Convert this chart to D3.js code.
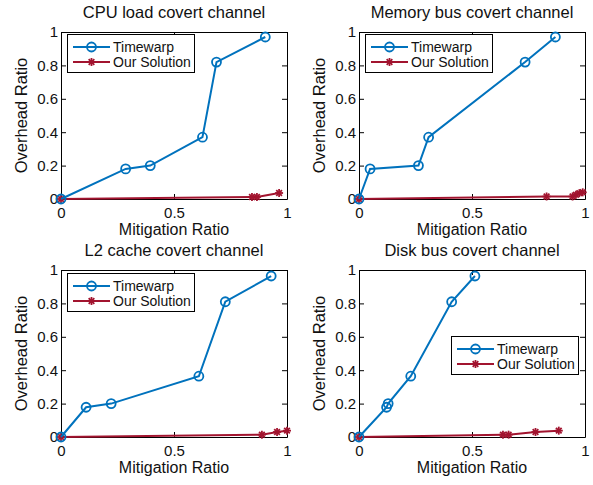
<!DOCTYPE html>
<html lang="en">
<head>
    <meta charset="UTF-8">
    <title>Covert channel overhead vs mitigation</title>
    <script src="https://d3js.org/d3.v7.min.js"></script>
    <style>
        body { margin: 0; background: #fff; }
        text { font-family: "Liberation Sans", Arial, sans-serif; fill: #111; }
    </style>
</head>
<body>
    <svg width="593" height="485"></svg>
    <script>
        // Panel titles
        const titles = ["CPU load covert channel", "Memory bus covert channel",
                        "L2 cache covert channel", "Disk bus covert channel"];
        const seriesNames = ["Timewarp", "Our Solution"];
        const xTicks = [0, 0.5, 1];
        const yTicks = [0, 0.2, 0.4, 0.6, 0.8, 1];

        // Timewarp data [mitigation, overhead]
        const cpuTimewarp = [[0, 0], [0.286, 0.18], [0.395, 0.2], [0.626, 0.37], [0.688, 0.82], [0.904, 0.97]];
        const memTimewarp = [[0, 0], [0.049, 0.18], [0.263, 0.2], [0.308, 0.37], [0.735, 0.82], [0.869, 0.97]];
        const l2Timewarp = [[0, 0], [0.111, 0.178], [0.222, 0.2], [0.61, 0.364], [0.727, 0.81], [0.93, 0.964]];
        const diskTimewarp = [[0, 0], [0.122, 0.178], [0.129, 0.2], [0.229, 0.364], [0.41, 0.81], [0.513, 0.964]];

        // Our Solution data
        const cpuOurs = [[0, 0], [0.845, 0.012], [0.867, 0.012], [0.965, 0.036]];
        const memOurs = [[0, 0], [0.83, 0.015], [0.945, 0.015], [0.96, 0.025], [0.975, 0.035], [0.99, 0.04]];
        const l2Ours = [[0, 0], [0.889, 0.014], [0.956, 0.03], [1.0, 0.038]];
        const diskOurs = [[0, 0], [0.637, 0.014], [0.662, 0.014], [0.781, 0.03], [0.884, 0.038]];

        const blue = "#0072BD";
        const red = "#A2142F";

        const svg = d3.select("svg");

        // plot boxes (left, top) and legend offsets
        const panels = [
            { title: titles[0], tw: cpuTimewarp, ours: cpuOurs, x: 61, y: 32, leg: [67, 34] },
            { title: titles[1], tw: memTimewarp, ours: memOurs, x: 359, y: 32, leg: [365, 34] },
            { title: titles[2], tw: l2Timewarp, ours: l2Ours, x: 61, y: 270, leg: [67, 273] },
            { title: titles[3], tw: diskTimewarp, ours: diskOurs, x: 359, y: 270, leg: [451, 336] }
        ];
        const w = 226, h = 167;

        const asterisk = (g, cx, cy, r) => {
            for (let a = 0; a < 4; a++) {
                const ang = a * Math.PI / 4;
                g.append("line")
                    .attr("x1", cx - r * Math.cos(ang)).attr("y1", cy - r * Math.sin(ang))
                    .attr("x2", cx + r * Math.cos(ang)).attr("y2", cy + r * Math.sin(ang))
                    .attr("stroke", red).attr("stroke-width", 1.8);
            }
        };

        panels.forEach(p => {
            const g = svg.append("g").attr("transform", `translate(${p.x},${p.y})`);
            const xScale = d3.scaleLinear().domain([0, 1]).range([0, w]);
            const yScale = d3.scaleLinear().domain([0, 1]).range([h, 0]);

            // axes with inward ticks
            g.append("g").attr("transform", `translate(0,${h})`)
                .call(d3.axisBottom(xScale).tickValues(xTicks).tickSizeInner(-5).tickSizeOuter(0).tickPadding(8).tickFormat(d3.format("")))
                .call(a => a.selectAll("text").attr("font-size", 15));
            g.append("g")
                .call(d3.axisLeft(yScale).tickValues(yTicks).tickSizeInner(-5).tickSizeOuter(0).tickPadding(3).tickFormat(d3.format("")))
                .call(a => a.selectAll("text").attr("font-size", 15));
            g.append("g")
                .call(d3.axisTop(xScale).tickValues(xTicks).tickSizeInner(-5).tickSizeOuter(0).tickFormat(""));
            g.append("g").attr("transform", `translate(${w},0)`)
                .call(d3.axisRight(yScale).tickValues(yTicks).tickSizeInner(-5).tickSizeOuter(0).tickFormat(""));
            g.selectAll(".domain").attr("stroke", "#000");
            g.selectAll(".tick line").attr("stroke", "#000");
            g.selectAll(".tick text").attr("fill", "#111");

            const line = d3.line().x(d => xScale(d[0])).y(d => yScale(d[1]));

            g.append("path").datum(p.ours).attr("d", line)
                .attr("fill", "none").attr("stroke", red).attr("stroke-width", 2);
            const og = g.append("g");
            p.ours.forEach(d => asterisk(og, xScale(d[0]), yScale(d[1]), 4));

            g.append("path").datum(p.tw).attr("d", line)
                .attr("fill", "none").attr("stroke", blue).attr("stroke-width", 2);
            g.selectAll("circle.tw").data(p.tw).enter().append("circle")
                .attr("class", "tw")
                .attr("cx", d => xScale(d[0])).attr("cy", d => yScale(d[1]))
                .attr("r", 4.5).attr("fill", "none").attr("stroke", blue).attr("stroke-width", 1.8);

            // title and labels
            svg.append("text").attr("x", p.x + w / 2).attr("y", p.y - 14)
                .attr("text-anchor", "middle").attr("font-size", 16.5).text(p.title);
            svg.append("text").attr("x", p.x + w / 2).attr("y", p.y + h + 36)
                .attr("text-anchor", "middle").attr("font-size", 16).text("Mitigation Ratio");
            svg.append("text")
                .attr("transform", `translate(${p.x - 34.5},${p.y + h / 2}) rotate(-90)`)
                .attr("text-anchor", "middle").attr("font-size", 16.5).text("Overhead Ratio");

            // legend
            const lg = svg.append("g").attr("transform", `translate(${p.leg[0]},${p.leg[1]})`);
            lg.append("rect").attr("x", 0.5).attr("y", 0.5).attr("width", 127).attr("height", 38)
                .attr("fill", "#fff").attr("stroke", "#000").attr("stroke-width", 1);
            seriesNames.forEach((name, i) => {
                const yy = 13 + i * 15;
                const col = i === 0 ? blue : red;
                lg.append("line").attr("x1", 6).attr("x2", 43).attr("y1", yy).attr("y2", yy)
                    .attr("stroke", col).attr("stroke-width", 2);
                if (i === 0) {
                    lg.append("circle").attr("cx", 24.5).attr("cy", yy).attr("r", 4.5)
                        .attr("fill", "none").attr("stroke", blue).attr("stroke-width", 1.8);
                } else {
                    asterisk(lg, 24.5, yy, 4);
                }
                lg.append("text").attr("x", 46).attr("y", yy + 5).attr("font-size", 14).text(name);
            });
        });
    </script>
</body>
</html>
